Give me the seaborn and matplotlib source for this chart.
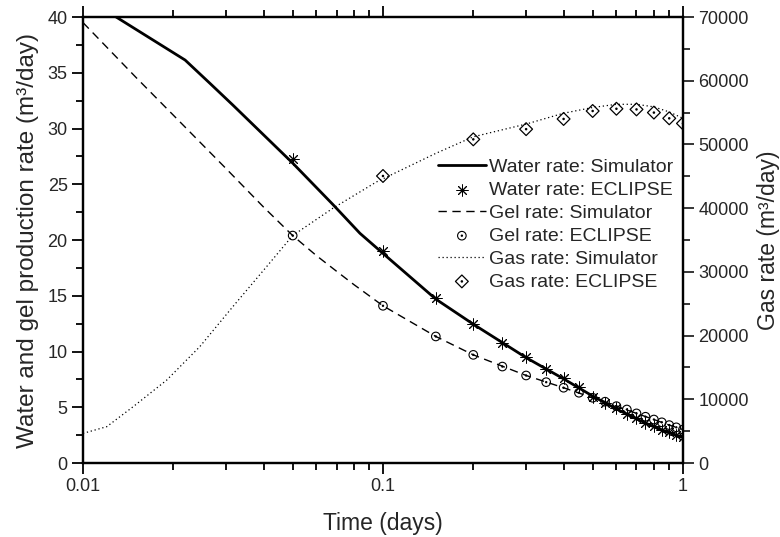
import numpy as np
import pandas as pd
import matplotlib
matplotlib.use("Agg")
import matplotlib.pyplot as plt
from matplotlib.path import Path
from matplotlib.ticker import FixedLocator, MultipleLocator, NullFormatter, FuncFormatter
import seaborn as sns

# Simulator curves
t_water_sim = [0.0129, 0.0219, 0.0265, 0.0316, 0.05, 0.068, 0.0838, 0.1, 0.15, 0.2,
               0.25, 0.3, 0.4, 0.5, 0.6, 0.7, 0.8, 0.9, 1.0]
water_sim = [40.0, 36.14, 34.05, 32.1, 26.9, 23.2, 20.6, 18.8, 14.7, 12.45,
             10.8, 9.45, 7.55, 6.0, 4.85, 3.95, 3.25, 2.7, 2.3]

t_gel_sim = [0.01, 0.015, 0.02, 0.03, 0.04, 0.05, 0.06, 0.07, 0.08, 0.1, 0.15, 0.2,
             0.3, 0.4, 0.5, 0.6, 0.7, 0.8, 0.9, 1.0]
gel_sim = [39.5, 34.6, 31.2, 26.4, 22.95, 20.4, 18.6, 17.2, 16.0, 14.1, 11.35, 9.7,
           7.85, 6.75, 5.85, 5.1, 4.45, 3.9, 3.4, 3.0]

t_gas_sim = [0.01, 0.012, 0.0147, 0.019, 0.0245, 0.0316, 0.0409, 0.05, 0.068, 0.095,
             0.15, 0.2, 0.3, 0.4, 0.5, 0.6, 0.7, 0.8, 0.9, 1.0]
gas_sim = [4650, 5700, 8840, 13000, 18250, 24550, 30800, 35700, 39970, 44100,
           48600, 51200, 53200, 54900, 55800, 56300, 56300, 55900, 55100, 54100]

# ECLIPSE results
t_ecl = [0.05, 0.1, 0.15, 0.2, 0.25, 0.3, 0.35, 0.4, 0.45, 0.5,
         0.55, 0.6, 0.65, 0.7, 0.75, 0.8, 0.85, 0.9, 0.95, 1.0]
water_ecl = [27.3, 19.0, 14.8, 12.5, 10.8, 9.5, 8.45, 7.6, 6.8, 5.95,
             5.4, 4.9, 4.4, 4.0, 3.6, 3.3, 3.0, 2.75, 2.5, 2.35]
gel_ecl = [20.4, 14.1, 11.35, 9.7, 8.65, 7.85, 7.25, 6.75, 6.3, 5.85,
           5.5, 5.1, 4.8, 4.45, 4.15, 3.9, 3.65, 3.4, 3.2, 3.0]

t_gas_ecl = [0.1, 0.2, 0.3, 0.4, 0.5, 0.6, 0.7, 0.8, 0.9, 1.0]
gas_ecl = [45050, 50800, 52400, 54000, 55250, 55600, 55500, 55000, 54100, 53300]

sns.set_style("ticks")
plt.rcParams["font.family"] = ["Liberation Sans", "DejaVu Sans"]

# open markers with a small dot in the middle
circ_dot = Path.make_compound_path(Path.circle((0, 0), 1.0), Path.circle((0, 0), 0.15))
diamond = Path([(0, 1), (1, 0), (0, -1), (-1, 0), (0, 1)],
               [Path.MOVETO, Path.LINETO, Path.LINETO, Path.LINETO, Path.CLOSEPOLY])
diam_dot = Path.make_compound_path(diamond, Path.circle((0, 0), 0.1))

fig = plt.figure(figsize=(7.8, 5.37), dpi=100)
ax = fig.add_axes([0.1064, 0.1378, 0.7692, 0.8305])
ax2 = ax.twinx()

df_w = pd.DataFrame({"t": t_water_sim, "v": water_sim})
df_g = pd.DataFrame({"t": t_gel_sim, "v": gel_sim})
df_gs = pd.DataFrame({"t": t_gas_sim, "v": gas_sim})
df_we = pd.DataFrame({"t": t_ecl, "v": water_ecl})
df_ge = pd.DataFrame({"t": t_ecl, "v": gel_ecl})
df_gse = pd.DataFrame({"t": t_gas_ecl, "v": gas_ecl})

sns.lineplot(data=df_w, x="t", y="v", ax=ax, color="black", lw=2.0,
             label="Water rate: Simulator", legend=False)
sns.scatterplot(data=df_we, x="t", y="v", ax=ax, marker=(8, 2, 0), s=65,
                color="black", linewidth=0.7, label="Water rate: ECLIPSE", legend=False)
sns.lineplot(data=df_g, x="t", y="v", ax=ax, color="black", lw=1.0,
             label="Gel rate: Simulator", legend=False)
ax.lines[-1].set_dashes([6, 4])
sns.scatterplot(data=df_ge, x="t", y="v", ax=ax, marker=circ_dot, s=38,
                facecolor="none", edgecolor="black", linewidth=0.8,
                label="Gel rate: ECLIPSE", legend=False)
sns.lineplot(data=df_gs, x="t", y="v", ax=ax2, color="black", lw=0.9,
             label="Gas rate: Simulator", legend=False)
ax2.lines[-1].set_dashes([1, 2.2])
sns.scatterplot(data=df_gse, x="t", y="v", ax=ax2, marker=diam_dot, s=85,
                facecolor="none", edgecolor="black", linewidth=0.9,
                label="Gas rate: ECLIPSE", legend=False)

ax.set_xscale("log")
ax.set_xlim(0.01, 1)
ax.set_ylim(0, 40)
ax2.set_ylim(0, 70000)

ax.xaxis.set_major_locator(FixedLocator([0.01, 0.1, 1]))
ax.xaxis.set_major_formatter(FuncFormatter(lambda v, p: f"{v:g}"))
ax.xaxis.set_minor_locator(FixedLocator([k * 10.0 ** e for e in (-2, -1) for k in range(2, 10)]))
ax.xaxis.set_minor_formatter(NullFormatter())
ax.yaxis.set_major_locator(MultipleLocator(5))
ax.yaxis.set_minor_locator(MultipleLocator(2.5))
ax2.yaxis.set_major_locator(MultipleLocator(10000))
ax2.yaxis.set_minor_locator(MultipleLocator(5000))

ax.tick_params(which="both", direction="out", top=True, labeltop=False, right=False,
               labelsize=13, width=1.3, color="black", pad=3)
ax.tick_params(which="major", length=8)
ax.tick_params(which="minor", length=5)
ax2.tick_params(which="both", direction="out", labelsize=13, width=1.3, pad=3)
ax2.tick_params(which="major", length=8)
ax2.tick_params(which="minor", length=5)

for a in (ax, ax2):
    for s in a.spines.values():
        s.set_linewidth(1.6)
        s.set_color("black")
        s.set_visible(True)

ax.set_xlabel("Time (days)", fontsize=16.5, labelpad=12)
ax.set_ylabel("Water and gel production rate (m³/day)", fontsize=17.5, labelpad=6)
ax2.set_ylabel("Gas rate (m³/day)", fontsize=16.5, labelpad=6)

h1, l1 = ax.get_legend_handles_labels()
h2, l2 = ax2.get_legend_handles_labels()
leg = ax2.legend(h1 + h2, l1 + l2, loc="upper left", bbox_to_anchor=(0.578, 0.70),
                 frameon=False, fontsize=14, labelspacing=0.27, handlelength=2.5,
                 handletextpad=0.15, borderaxespad=0)

fig.savefig("out.png", dpi=100)
